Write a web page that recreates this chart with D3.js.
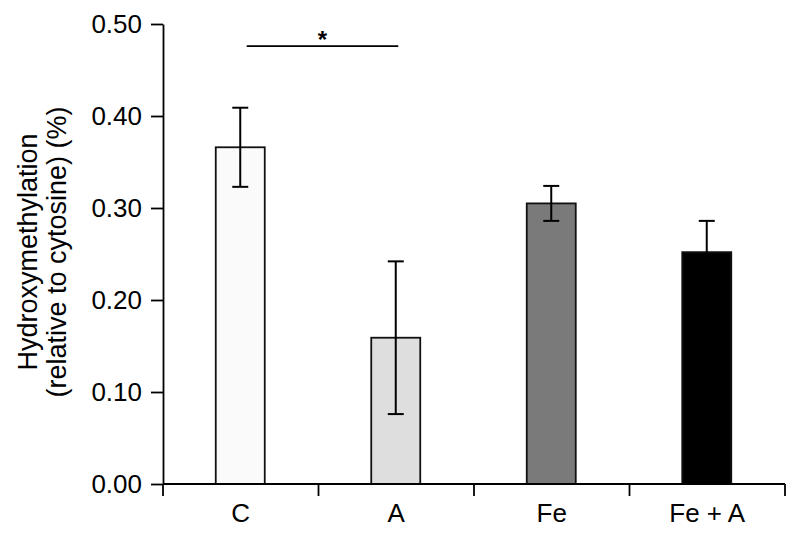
<!DOCTYPE html>
<html><head><meta charset="utf-8">
<script src="https://cdn.jsdelivr.net/npm/d3@7/dist/d3.min.js"></script>
<style>body{margin:0;background:#fff}svg{display:block}text{font-family:"Liberation Sans",Arial,sans-serif;fill:#000}</style>
</head><body><svg id="c" width="799" height="538"></svg>
<script>
const categories = ["C", "A", "Fe", "Fe + A"];
const means = [0.366, 0.159, 0.305, 0.252];
const errors = [0.043, 0.083, 0.019, 0.034];
const colors = ["#fafafa", "#dedede", "#7a7a7a", "#000000"];
const yTicks = [0, 0.1, 0.2, 0.3, 0.4, 0.5];
const sig = {from: "C", to: "A", label: "*", y: 0.476};

(function(){
const svg = d3.select("#c");
const mLeft = 163, mRight = 785, mTop = 24, mBottom = 484;
const x = d3.scaleBand().domain(categories).range([mLeft, mRight]).paddingInner(0).paddingOuter(0);
const y = d3.scaleLinear().domain([0, 0.5]).range([mBottom, mTop]);
const bw = 49;

// bars
svg.selectAll("rect.bar").data(categories).join("rect")
  .attr("x", d => x(d) + x.bandwidth()/2 - bw/2 - 0.5)
  .attr("y", (d,i) => y(means[i]))
  .attr("width", bw)
  .attr("height", (d,i) => y(0) - y(means[i]))
  .attr("fill", (d,i) => colors[i])
  .attr("stroke", "#111").attr("stroke-width", 1.8);

// error bars
const eg = svg.append("g").attr("stroke", "#000").attr("stroke-width", 2);
categories.forEach((d,i) => {
  const cx = x(d) + x.bandwidth()/2 - 0.5;
  eg.append("line").attr("x1", cx).attr("x2", cx).attr("y1", y(means[i]+errors[i])).attr("y2", y(means[i]-errors[i]));
  [means[i]+errors[i], means[i]-errors[i]].forEach(v => {
    eg.append("line").attr("x1", cx-8).attr("x2", cx+8).attr("y1", y(v)).attr("y2", y(v));
  });
});

// y axis
const ya = svg.append("g").attr("transform", `translate(${mLeft},0)`)
  .call(d3.axisLeft(y).tickValues(yTicks).tickFormat(d3.format(".2f")).tickSize(12).tickSizeOuter(0));
ya.select(".domain").attr("stroke", "#000").attr("stroke-width", 1.8);
ya.selectAll(".tick line").attr("stroke", "#000").attr("stroke-width", 1.8);
ya.selectAll(".tick text").attr("x", -21).style("font-size", "26px").style("font-family", '"Liberation Sans",Arial,sans-serif').attr("fill", "#000");

// x axis
const xa = svg.append("g").attr("transform", `translate(0,${mBottom})`);
xa.append("line").attr("x1", mLeft).attr("x2", mRight).attr("y1", 0).attr("y2", 0).attr("stroke", "#000").attr("stroke-width", 1.8);
const bounds = categories.map(d => x(d)).concat([mRight]);
xa.selectAll("line.t").data(bounds).join("line").attr("class","t")
  .attr("x1", d => d).attr("x2", d => d).attr("y1", 0).attr("y2", 12)
  .attr("stroke", "#000").attr("stroke-width", 1.8);
xa.selectAll("text").data(categories).join("text")
  .attr("x", d => x(d) + x.bandwidth()/2).attr("y", 38)
  .attr("text-anchor", "middle").style("font-size", "26px").text(d => d);

// y label
const yl = svg.append("text").attr("transform", "translate(0,252) rotate(-90)").attr("text-anchor", "middle").style("font-size", "27px");
yl.append("tspan").attr("x", 0).attr("y", 37).text("Hydroxymethylation");
yl.append("tspan").attr("x", 0).attr("y", 66).text("(relative to cytosine) (%)");

// significance
const sx1 = x(sig.from) + x.bandwidth()/2 + 6, sx2 = x(sig.to) + x.bandwidth()/2 + 2;
svg.append("line").attr("x1", sx1).attr("x2", sx2).attr("y1", y(sig.y)).attr("y2", y(sig.y)).attr("stroke", "#000").attr("stroke-width", 1.8);
svg.append("text").attr("x", (sx1+sx2)/2).attr("y", y(sig.y) + 2).attr("text-anchor", "middle").style("font-size", "24px").style("font-weight", "bold").text(sig.label);
})();
</script></body></html>
